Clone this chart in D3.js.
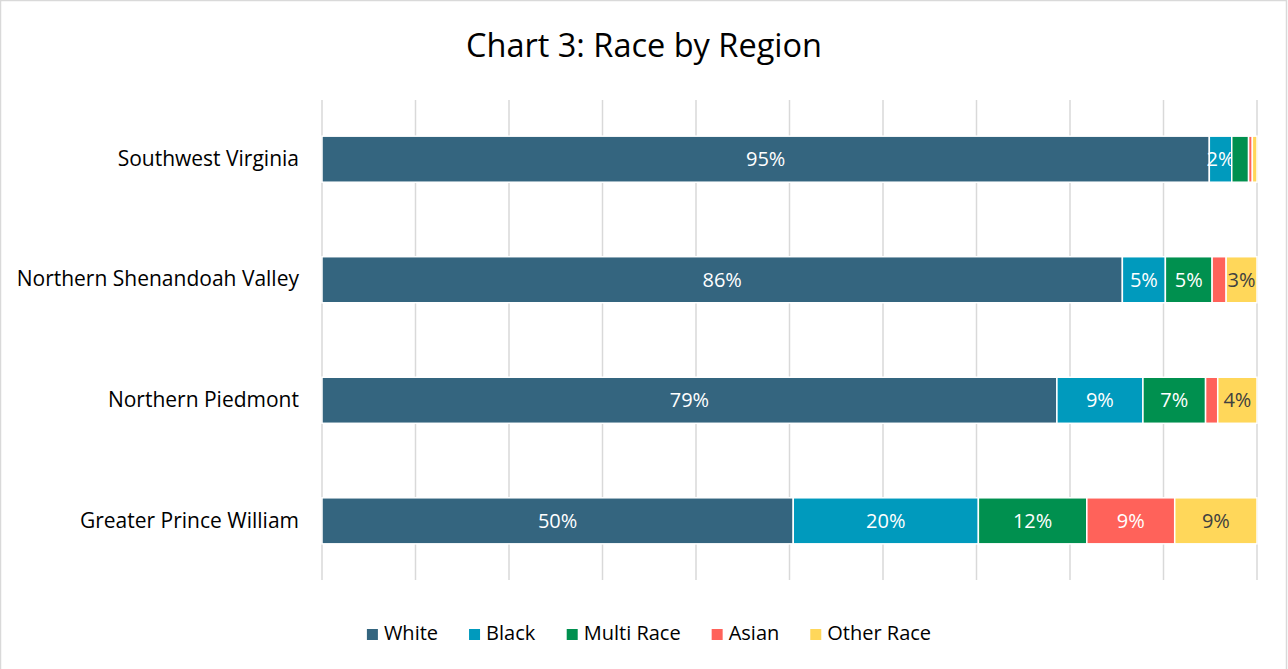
<!DOCTYPE html>
<html>
<head>
<meta charset="utf-8">
<script src="https://cdn.jsdelivr.net/npm/d3@7"></script>
<style>
  body { margin: 0; background: #fff; }
  text { font-family: "Open Sans", sans-serif; }
</style>
</head>
<body>
<div id="chart"></div>
<script>

// data (share of population, %)
const regions = ["Southwest Virginia", "Northern Shenandoah Valley", "Northern Piedmont", "Greater Prince William"]
const races = ["White", "Black", "Multi Race", "Asian", "Other Race"]
const white = [94.9, 85.6, 78.6, 50.4]
const black = [2.4, 4.6, 9.2, 19.8]
const multi = [1.8, 5.0, 6.7, 11.6]
const asian = [0.4, 1.5, 1.3, 9.4]
const other = [0.5, 3.3, 4.2, 8.8]
const colors = ["#34657f", "#009abd", "#00904f", "#ff625a", "#ffd75a"]
const ticks = [0, 10, 20, 30, 40, 50, 60, 70, 80, 90, 100]

const width = 1288
const height = 669

const config = { top: 100, right: 31, bottom: 89, left: 322 }

const svg = d3.select('#chart').append('svg').attr("width", width).attr("height", height)

// chart border
svg.append('rect')
  .attr("x", 0.5).attr("y", 0.5)
  .attr("width", width - 2).attr("height", height + 5)
  .attr("fill", "white")
  .attr("stroke", "#d9d9d9")
  .attr("stroke-width", 1.5)

const x = d3.scaleLinear().domain([0, 100]).range([config.left, width - config.right])
const y = d3.scaleBand().domain(regions).range([config.top, height - config.bottom]).paddingInner(0.618).paddingOuter(0.3)

// build rows for the stack
const series = [white, black, multi, asian, other]
const rows = regions.map((r, i) => {
  const row = { region: r }
  races.forEach((k, j) => row[k] = series[j][i])
  return row
})
const stacked = d3.stack().keys(races)(rows)

// gridlines
svg.append('g')
  .selectAll('line')
  .data(ticks)
  .join('line')
  .attr("x1", d => x(d)).attr("x2", d => x(d))
  .attr("y1", config.top).attr("y2", height - config.bottom)
  .attr("stroke", "#d9d9d9")
  .attr("stroke-width", 1.5)

// bars
const layers = svg.append('g')
  .selectAll('g')
  .data(stacked)
  .join('g')
  .attr("fill", (d, i) => colors[i])

layers.selectAll('rect')
  .data(d => d)
  .join('rect')
  .attr("x", d => x(d[0]))
  .attr("y", d => y(d.data.region))
  .attr("width", d => x(d[1]) - x(d[0]))
  .attr("height", y.bandwidth())
  .attr("stroke", "white")
  .attr("stroke-width", 1.5)

// data labels (small slices were left unlabeled)
const fmt = v => Math.round(v) + "%"
layers.each(function (layer, i) {
  d3.select(this).selectAll('text')
    .data(layer.filter(d => d[1] - d[0] >= 2))
    .join('text')
    .attr("x", d => (x(d[0]) + x(d[1])) / 2)
    .attr("y", d => y(d.data.region) + y.bandwidth() / 2)
    .attr("dy", "0.35em")
    .attr("text-anchor", "middle")
    .attr("font-size", 20)
    .attr("fill", i == 4 ? "#404040" : "white")
    .text(d => fmt(d[1] - d[0]))
})

// category axis
const axisLeft = d3.axisLeft(y).tickSize(0).tickPadding(23)
svg.append('g')
  .attr("transform", `translate(${config.left},0)`)
  .call(axisLeft)
  .call(g => g.select(".domain").remove())
  .selectAll('text')
  .attr("font-size", 21)
  .attr("fill", "#000")
  .style("font-family", '"Open Sans", sans-serif')

// title
svg.append('text')
  .attr("x", 644)
  .attr("y", 57)
  .attr("text-anchor", "middle")
  .attr("font-size", 32.5)
  .attr("fill", "#000")
  .text("Chart 3: Race by Region")

// legend
const legend = svg.append('g')
const items = legend.selectAll('g')
  .data(races)
  .join('g')
items.append('rect')
  .attr("width", 11).attr("height", 11)
  .attr("y", -11)
  .attr("fill", (d, i) => colors[i])
items.append('text')
  .attr("x", 17)
  .attr("font-size", 20)
  .attr("fill", "#000")
  .text(d => d)

const gap = 31
let pos = 0
items.each(function () {
  d3.select(this).attr("transform", `translate(${pos},0)`)
  pos += this.getBBox().width + gap
})
pos -= gap
legend.attr("transform", `translate(${649 - pos / 2},640)`)

</script>
</body>
</html>
